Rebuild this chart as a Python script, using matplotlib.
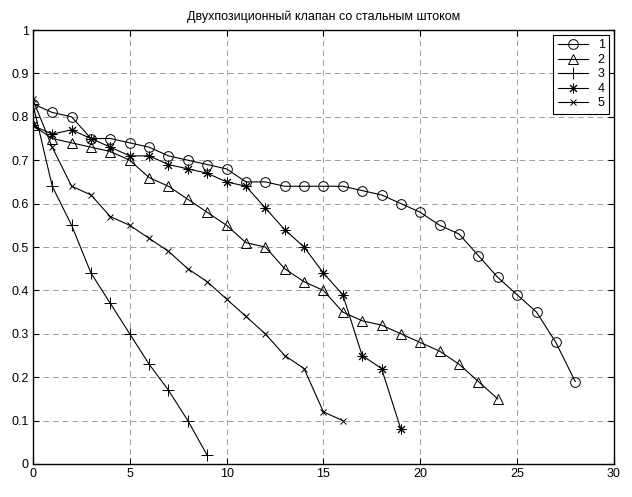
import matplotlib
matplotlib.use('Agg')
import matplotlib.pyplot as plt

plt.rcParams['font.family'] = ['Liberation Sans', 'DejaVu Sans']

# данные кривых 1..5
x1 = list(range(29))
y1 = [0.83, 0.81, 0.80, 0.75, 0.75, 0.74, 0.73, 0.71, 0.70, 0.69, 0.68, 0.65, 0.65, 0.64, 0.64,
      0.64, 0.64, 0.63, 0.62, 0.60, 0.58, 0.55, 0.53, 0.48, 0.43, 0.39, 0.35, 0.28, 0.19]
x2 = list(range(25))
y2 = [0.78, 0.75, 0.74, 0.73, 0.72, 0.70, 0.66, 0.64, 0.61, 0.58, 0.55, 0.51, 0.50, 0.45, 0.42,
      0.40, 0.35, 0.33, 0.32, 0.30, 0.28, 0.26, 0.23, 0.19, 0.15]
x3 = list(range(10))
y3 = [0.83, 0.64, 0.55, 0.44, 0.37, 0.30, 0.23, 0.17, 0.10, 0.02]
x4 = list(range(20))
y4 = [0.78, 0.76, 0.77, 0.75, 0.73, 0.71, 0.71, 0.69, 0.68, 0.67, 0.65, 0.64, 0.59, 0.54, 0.50,
      0.44, 0.39, 0.25, 0.22, 0.08]
x5 = list(range(17))
y5 = [0.84, 0.73, 0.64, 0.62, 0.57, 0.55, 0.52, 0.49, 0.45, 0.42, 0.38, 0.34, 0.30, 0.25, 0.22,
      0.12, 0.10]

labels = ['1', '2', '3', '4', '5']
markers = ['o', '^', '+', (8, 2, 0), 'x']
sizes = [7, 7, 8, 7, 4]

fig = plt.figure(figsize=(6.32, 4.97), dpi=100)
ax = fig.add_axes([0.052, 0.0664, 0.9195, 0.8732])

for xs, ys, lab, mk, ms in zip([x1, x2, x3, x4, x5], [y1, y2, y3, y4, y5], labels, markers, sizes):
    ax.plot(xs, ys, color='black', linewidth=0.8, marker=mk, markersize=ms,
            markerfacecolor='none', markeredgecolor='black', markeredgewidth=0.7, label=lab)

ax.set_xlim(0, 30)
ax.set_ylim(0, 1)
ax.set_xticks(range(0, 31, 5))
ax.set_yticks([i / 10 for i in range(11)])
ax.set_yticklabels(['0', '0.1', '0.2', '0.3', '0.4', '0.5', '0.6', '0.7', '0.8', '0.9', '1'])
ax.tick_params(direction='in', top=True, right=True, labelsize=9, length=4, width=0.8, pad=3)
ax.grid(True, color='#a0a0a0', linestyle=(0, (6, 4)), linewidth=0.7)
for s in ax.spines.values():
    s.set_linewidth(1.0)
ax.set_title('Двухпозиционный клапан со стальным штоком', fontsize=9, pad=7)

leg = ax.legend(loc='upper right', fontsize=9, fancybox=False, framealpha=1,
                edgecolor='black', handlelength=2.4, borderpad=0.35, labelspacing=0.2,
                borderaxespad=0.4)
leg.get_frame().set_linewidth(0.8)

fig.savefig('out.png', dpi=100)
